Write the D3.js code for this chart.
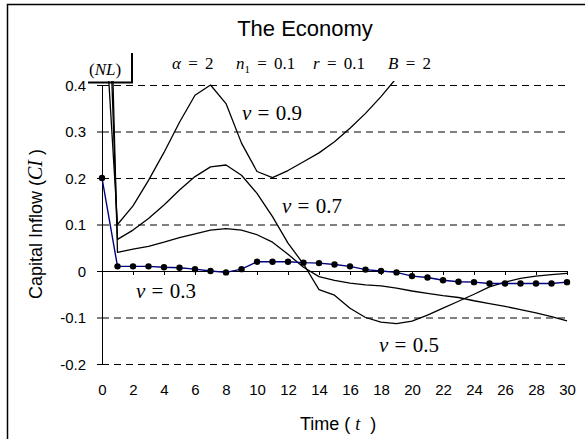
<!DOCTYPE html>
<html>
<head>
<meta charset="utf-8">
<script src="https://cdn.jsdelivr.net/npm/d3@7"></script>
<style>
  body { margin: 0; background: #fff; }
  svg { display: block; }
  .sans { font-family: "Liberation Sans", Arial, sans-serif; }
  .serif { font-family: "Liberation Serif", "Times New Roman", serif; }
</style>
</head>
<body>
<div id="chart"></div>
<script>
// data (t = 0..30)
const times = [0, 1, 2, 3, 4, 5, 6, 7, 8, 9, 10, 11, 12, 13, 14, 15, 16, 17, 18, 19, 20, 21, 22, 23, 24, 25, 26, 27, 28, 29, 30];
const ci09 = [0.65, 0.1, 0.14, 0.195, 0.255, 0.32, 0.378, 0.4, 0.36, 0.275, 0.214, 0.201, 0.216, 0.235, 0.254, 0.278, 0.307, 0.339, 0.375, 0.415, 0.46];
const ci07 = [1.0, 0.068, 0.088, 0.113, 0.142, 0.174, 0.203, 0.224, 0.228, 0.206, 0.167, 0.117, 0.06, 0.015, -0.04, -0.052, -0.08, -0.1, -0.11, -0.113, -0.108, -0.095, -0.08, -0.065, -0.05, -0.034, -0.024, -0.016, -0.011, -0.008, -0.005];
const ci05 = [1.3, 0.04, 0.047, 0.053, 0.062, 0.072, 0.08, 0.088, 0.091, 0.088, 0.078, 0.062, 0.036, 0.008, -0.012, -0.02, -0.026, -0.03, -0.032, -0.037, -0.043, -0.048, -0.053, -0.057, -0.064, -0.07, -0.076, -0.083, -0.09, -0.098, -0.107];
const ci03 = [0.2, 0.01, 0.01, 0.01, 0.008, 0.007, 0.004, 0.0, -0.003, 0.004, 0.02, 0.02, 0.02, 0.018, 0.017, 0.014, 0.01, 0.003, 0.0, -0.003, -0.011, -0.014, -0.02, -0.023, -0.024, -0.027, -0.027, -0.027, -0.027, -0.027, -0.024];
const yTicks = [-0.2, -0.1, 0, 0.1, 0.2, 0.3, 0.4];
const xTicks = [0, 2, 4, 6, 8, 10, 12, 14, 16, 18, 20, 22, 24, 26, 28, 30];
const curveNames = ["0.9", "0.7", "0.5", "0.3"];

const W = 585, H = 439;
const svg = d3.select("#chart").append("svg").attr("width", W).attr("height", H);

// outer frame, right and bottom edges fall outside the picture
svg.append("rect").attr("x", 7.5).attr("y", 4.5).attr("width", 600).attr("height", 500)
  .attr("fill", "none").attr("stroke", "#000").attr("stroke-width", 1.5);

const x = d3.scaleLinear().domain([0, 30]).range([102, 567]);
const y = d3.scaleLinear().domain([-0.2, 0.4]).range([364, 85]);

svg.append("defs").append("clipPath").attr("id", "plot")
  .append("rect").attr("x", x(0)).attr("y", y(0.4) - 4).attr("width", x(30) - x(0) + 4).attr("height", y(-0.2) - y(0.4) + 8);

// dashed grid
svg.append("g").selectAll("line").data(yTicks.filter(d => d !== 0)).enter().append("line")
  .attr("x1", x(0)).attr("x2", x(30) + 1)
  .attr("y1", d => y(d) + 0.5).attr("y2", d => y(d) + 0.5)
  .attr("stroke", "#000").attr("stroke-width", 1).attr("stroke-dasharray", "7,5");

// y axis
const yAxis = svg.append("g").attr("class", "sans").attr("transform", `translate(${x(0)},0)`)
  .call(d3.axisLeft(y).tickValues(yTicks).tickSize(5).tickSizeOuter(0).tickPadding(11)
    .tickFormat(d => d === 0 ? "0" : d.toFixed(1)));
yAxis.selectAll("text").attr("font-size", 15).attr("fill", "#000").attr("dy", "0.36em");
yAxis.select(".domain").attr("stroke", "#000");
yAxis.selectAll(".tick line").attr("stroke", "#000");

// x axis line at zero with ticks
const xAxis = svg.append("g").attr("transform", `translate(0,${y(0)})`)
  .call(d3.axisBottom(x).tickValues(xTicks).tickSize(4).tickSizeOuter(0).tickFormat(""));
xAxis.select(".domain").attr("stroke", "#000");
xAxis.selectAll(".tick line").attr("stroke", "#000");

// x tick labels at the bottom
const xLab = svg.append("g").attr("class", "sans").attr("transform", `translate(0,${y(-0.2) + 20})`)
  .call(d3.axisBottom(x).tickValues(xTicks).tickSize(0).tickPadding(0));
xLab.select(".domain").remove();
xLab.selectAll("text").attr("font-size", 15).attr("fill", "#000").attr("dy", "0.71em").attr("y", 0);

// curves
const line = d3.line().x((d, i) => x(times[i])).y(d => y(d));
const plot = svg.append("g").attr("clip-path", "url(#plot)");
[ci09, ci07, ci05].forEach(s => {
  plot.append("path").attr("d", line(s)).attr("fill", "none")
    .attr("stroke", "#000").attr("stroke-width", 1.3).attr("stroke-linejoin", "round");
});
svg.append("path").attr("d", line(ci03)).attr("fill", "none")
  .attr("stroke", "#000080").attr("stroke-width", 1.4);
svg.append("g").selectAll("circle").data(ci03).enter().append("circle")
  .attr("cx", (d, i) => x(times[i])).attr("cy", d => y(d)).attr("r", 3.2).attr("fill", "#000");

// (NL) box
svg.append("rect").attr("x", 84).attr("y", 50).attr("width", 47).attr("height", 31).attr("fill", "#fff");
svg.append("path").attr("d", "M132,53V82.5H88").attr("fill", "none").attr("stroke", "#000").attr("stroke-width", 2);
const nl = svg.append("text").attr("class", "serif").attr("x", 89).attr("y", 75).attr("font-size", 17);
nl.append("tspan").text("(");
nl.append("tspan").attr("font-style", "italic").text("NL");
nl.append("tspan").text(")");

// title and parameters
svg.append("text").attr("class", "sans").attr("x", 305).attr("y", 36).attr("text-anchor", "middle")
  .attr("font-size", 22).text("The Economy");

const params = [["α", "", " = 2", 172], ["n", "1", " = 0.1", 236], ["r", "", " = 0.1", 313], ["B", "", " = 2", 388]];
params.forEach(p => {
  const t = svg.append("text").attr("class", "serif").attr("x", p[3]).attr("y", 69)
    .attr("font-size", 17).attr("word-spacing", 3).attr("xml:space", "preserve");
  t.append("tspan").attr("font-style", "italic").text(p[0]);
  if (p[1]) t.append("tspan").attr("font-size", 11).attr("dy", 4).text(p[1]);
  t.append("tspan").attr("dy", p[1] ? -4 : 0).text(p[2]);
});

// curve labels
const labelPos = [[242, 120], [282, 213], [379, 352], [136, 298]];
curveNames.forEach((n, i) => {
  const t = svg.append("text").attr("class", "serif").attr("x", labelPos[i][0]).attr("y", labelPos[i][1])
    .attr("font-size", 21).attr("word-spacing", 1).attr("xml:space", "preserve");
  t.append("tspan").attr("font-style", "italic").text("v");
  t.append("tspan").text(" = " + n);
});

// axis titles
const xt = svg.append("text").attr("class", "sans").attr("x", 300).attr("y", 430)
  .attr("font-size", 18).attr("xml:space", "preserve");
xt.append("tspan").text("Time ( ");
xt.append("tspan").attr("class", "serif").attr("font-style", "italic").text("t");
xt.append("tspan").text("  )");

const yt = svg.append("text").attr("class", "sans").attr("transform", "translate(42,224) rotate(-90)")
  .attr("text-anchor", "middle").attr("font-size", 18).attr("xml:space", "preserve");
yt.append("tspan").text("Capital Inflow (");
yt.append("tspan").attr("class", "serif").attr("font-style", "italic").attr("font-size", 20).text("CI");
yt.append("tspan").text(" )");
</script>
</body>
</html>
